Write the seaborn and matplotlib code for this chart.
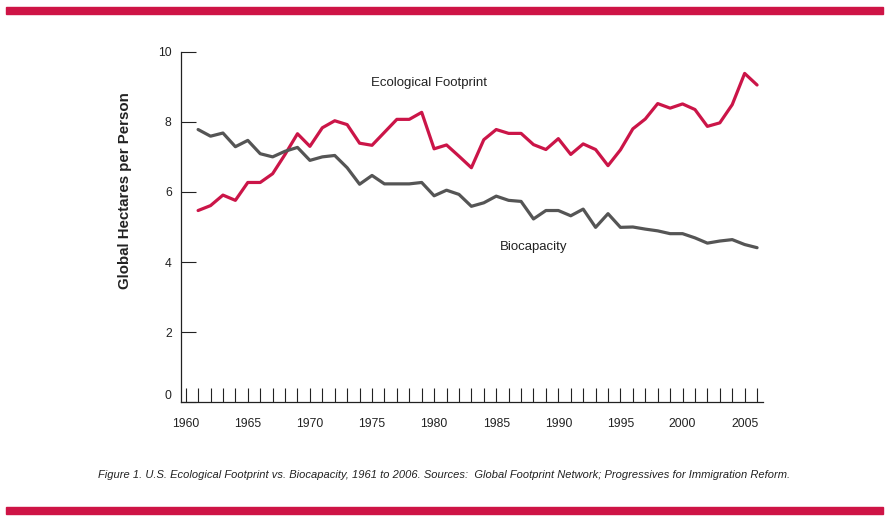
import pandas as pd
import matplotlib.pyplot as plt
import seaborn as sns

# data
years = list(range(1961, 2007))
footprint = [5.47, 5.61, 5.91, 5.76, 6.27, 6.27, 6.52, 7.07, 7.66, 7.30,
             7.83, 8.03, 7.92, 7.39, 7.33, 7.70, 8.07, 8.07, 8.27, 7.23,
             7.34, 7.02, 6.69, 7.49, 7.78, 7.67, 7.67, 7.35, 7.21, 7.52,
             7.07, 7.37, 7.21, 6.75, 7.20, 7.80, 8.08, 8.52, 8.39, 8.51,
             8.35, 7.87, 7.97, 8.49, 9.38, 9.05]
biocapacity = [7.78, 7.59, 7.68, 7.29, 7.47, 7.09, 7.00, 7.16, 7.27, 6.90,
               7.00, 7.04, 6.69, 6.22, 6.47, 6.23, 6.23, 6.23, 6.27, 5.89,
               6.05, 5.93, 5.59, 5.69, 5.88, 5.76, 5.73, 5.23, 5.47, 5.47,
               5.32, 5.51, 4.99, 5.38, 4.99, 5.00, 4.94, 4.89, 4.81, 4.81,
               4.69, 4.54, 4.60, 4.64, 4.50, 4.41]
series_names = ['Ecological Footprint', 'Biocapacity']
y_ticks = [0, 2, 4, 6, 8, 10]
x_label_years = list(range(1960, 2006, 5))

RED = '#CB1548'
GRAY = '#555555'

sns.set_style('white')
plt.rcParams['font.family'] = ['Liberation Sans', 'DejaVu Sans']

df = pd.DataFrame({
    'Year': years * 2,
    'Value': footprint + biocapacity,
    'Series': [series_names[0]] * len(years) + [series_names[1]] * len(years),
})

fig = plt.figure(figsize=(8.92, 5.21), dpi=100)
ax = fig.add_axes([0.2026, 0.2278, 0.855 - 0.2026, 0.9008 - 0.2278])

sns.lineplot(data=df, x='Year', y='Value', hue='Series',
             palette={series_names[0]: RED, series_names[1]: GRAY},
             linewidth=2.3, legend=False, ax=ax)

ax.set_xlim(1959.6, 2006.45)
ax.set_ylim(0, 10)

# ticks: every year on x, labels every 5 years
all_years = list(range(1960, 2007))
ax.set_xticks(all_years)
ax.set_xticklabels([str(y) if y in x_label_years else '' for y in all_years])
ax.set_yticks(y_ticks)
ax.set_yticklabels([str(v) for v in y_ticks])
ax.tick_params(axis='x', bottom=True, direction='in', length=10, width=0.8,
               pad=11, labelsize=8.7, colors='#222222')
ax.tick_params(axis='y', left=True, direction='in', length=11, width=0.8,
               pad=6.5, labelsize=8.7, colors='#222222')
ax.get_yticklabels()[0].set_va('bottom')

for side in ['top', 'right']:
    ax.spines[side].set_visible(False)
for side in ['left', 'bottom']:
    ax.spines[side].set_color('#222222')
    ax.spines[side].set_linewidth(0.9)

ax.set_xlabel('')
ax.set_ylabel('')
fig.text(0.140, 0.635, 'Global Hectares per Person', rotation=90,
         ha='center', va='center', fontsize=10.8, fontweight='bold',
         color='#222222')

# series labels
ax.text(1979.6, 9.12, series_names[0], ha='center', va='center',
        fontsize=9.5, color='#222222')
ax.text(1988.0, 4.44, series_names[1], ha='center', va='center',
        fontsize=9.5, color='#222222')

# caption
fig.text(0.498, 0.0883,
         'Figure 1. U.S. Ecological Footprint vs. Biocapacity, 1961 to 2006. '
         'Sources:  Global Footprint Network; Progressives for Immigration Reform.',
         ha='center', va='center', fontsize=8.0, style='italic', color='#222222')

# red bands at top and bottom
fig.patches.append(plt.Rectangle((6 / 892, 1 - 14 / 521), 877 / 892, 7.3 / 521,
                                 transform=fig.transFigure, color='#CE1446',
                                 figure=fig))
fig.patches.append(plt.Rectangle((6 / 892, 1 - 514 / 521), 877 / 892, 7.3 / 521,
                                 transform=fig.transFigure, color='#CE1446',
                                 figure=fig))

fig.savefig('out.png', dpi=100)
